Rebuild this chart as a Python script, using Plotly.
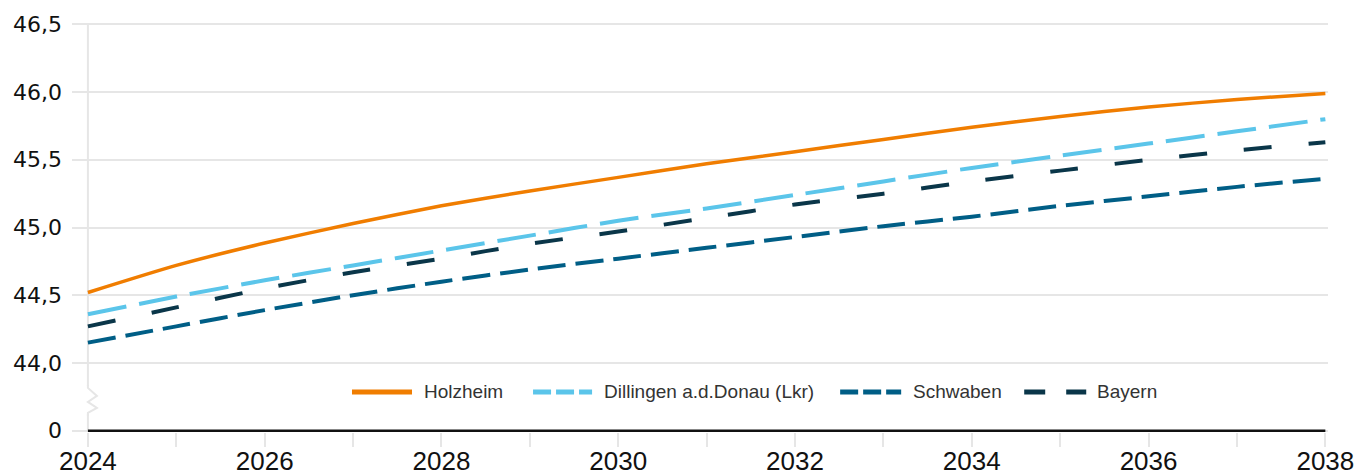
import plotly.graph_objects as go

years = list(range(2024, 2039))
holzheim = [44.52, 44.72, 44.885, 45.03, 45.16, 45.27, 45.37, 45.47, 45.56, 45.65, 45.74, 45.82, 45.89, 45.945, 45.99]
dillingen = [44.36, 44.49, 44.61, 44.72, 44.83, 44.94, 45.05, 45.14, 45.24, 45.34, 45.44, 45.53, 45.62, 45.71, 45.80]
schwaben = [44.15, 44.27, 44.39, 44.50, 44.60, 44.69, 44.77, 44.85, 44.93, 45.01, 45.08, 45.16, 45.23, 45.30, 45.36]
bayern = [44.27, 44.41, 44.55, 44.67, 44.77, 44.88, 44.97, 45.07, 45.17, 45.25, 45.34, 45.42, 45.50, 45.57, 45.63]

series_names = ["Holzheim", "Dillingen a.d.Donau (Lkr)", "Schwaben", "Bayern"]
series_values = [holzheim, dillingen, schwaben, bayern]
colors = ["#F07D00", "#5BC5EA", "#005E86", "#0A3649"]
dashes = ["solid", "39px,13px", "28px,10px", "28px,37px"]
widths = [3.5, 4, 4, 4]
legend_dashes = ["solid", "18px,5px", "18px,5px", "21px,21px"]

y_tickvals = [43.5, 44.0, 44.5, 45.0, 45.5, 46.0, 46.5]
y_ticktext = ["0", "44,0", "44,5", "45,0", "45,5", "46,0", "46,5"]
x_ticktext = [str(y) if (y % 2 == 0) else "" for y in years]

fig = go.Figure()
for name, vals, c, d, w in zip(series_names, series_values, colors, dashes, widths):
    fig.add_trace(go.Scatter(x=years, y=vals, mode="lines", name=name,
                             line=dict(color=c, dash=d, width=w, shape="spline", smoothing=0.6),
                             showlegend=False, hoverinfo="x+y"))

W, H = 1359, 476
x0, x1 = 2023.82, 2038.03
y0, y1 = 43.49, 46.51
ppx = 88.36
ppu = 135.5
l = 72
plot_w = (x1 - x0) * ppx
r = W - l - plot_w
t = 24 - (46.51 - 46.5) * ppu
plot_h = (y1 - y0) * ppu
b = H - t - plot_h

def px2x(px):
    return 2024 + (px - 88) / ppx

def py2y(py):
    return 44.0 - (py - 363) / ppu

shapes = []
shapes.append(dict(type="line", xref="x", yref="y", x0=2024, x1=2024, y0=43.5, y1=46.5,
                   line=dict(color="#e6e6e6", width=2), layer="below"))
shapes.append(dict(type="rect", xref="x", yref="y", x0=px2x(86), x1=px2x(91), y0=py2y(414), y1=py2y(386),
                   line=dict(width=0), fillcolor="white", layer="below"))
zz = [(88, 385), (88, 388), (97, 396), (88, 402), (97, 408), (88, 413), (88, 416)]
path = "M " + " L ".join(f"{px2x(a):.5f},{py2y(bb):.5f}" for a, bb in zz)
shapes.append(dict(type="path", xref="x", yref="y", path=path,
                   line=dict(color="#e6e6e6", width=2), layer="below"))
shapes.append(dict(type="line", xref="x", yref="y", x0=2024, x1=2038, y0=43.5, y1=43.5,
                   line=dict(color="#111111", width=2.5), layer="above"))

leg_y = py2y(392)
leg_items = [(352, 412, 424), (533, 592, 604), (840, 901, 913), (1024, 1086, 1097)]
annotations = []
for (a, bb, tx), name, c, d in zip(leg_items, series_names, colors, legend_dashes):
    shapes.append(dict(type="line", xref="x", yref="y", x0=px2x(a), x1=px2x(bb), y0=leg_y, y1=leg_y,
                       line=dict(color=c, width=5, dash=d)))
    annotations.append(dict(x=px2x(tx), y=leg_y, xref="x", yref="y", text=name, showarrow=False,
                            xanchor="left", yanchor="middle", xshift=-2,
                            font=dict(family="Liberation Sans, Arial, sans-serif", size=19, color="#333333")))

fig.update_layout(
    width=W, height=H,
    margin=dict(l=l, r=r, t=t, b=b, pad=0, autoexpand=False),
    paper_bgcolor="white", plot_bgcolor="white",
    font=dict(family="Liberation Sans, Arial, sans-serif", color="#111111"),
    shapes=shapes, annotations=annotations,
    xaxis=dict(range=[x0, x1], tickvals=years, ticktext=x_ticktext, showgrid=False, zeroline=False,
               ticks="outside", ticklen=14, tickwidth=2, tickcolor="#e6e6e6", showline=False,
               automargin=False,
               tickfont=dict(family="Liberation Sans, Arial, sans-serif", size=26, color="#111111"),
               ticklabelstandoff=-8),
    yaxis=dict(range=[y0, y1], tickvals=y_tickvals, ticktext=y_ticktext, showgrid=True,
               gridcolor="#e6e6e6", gridwidth=2, zeroline=False, showline=False, ticks="",
               automargin=False,
               tickfont=dict(family="DejaVu Sans, sans-serif", size=22, color="#111111"),
               ticklabelstandoff=9),
)

fig.write_html("out.html", config={"displayModeBar": False},
               post_script="document.body.style.margin='0';document.body.style.overflow='hidden';")
